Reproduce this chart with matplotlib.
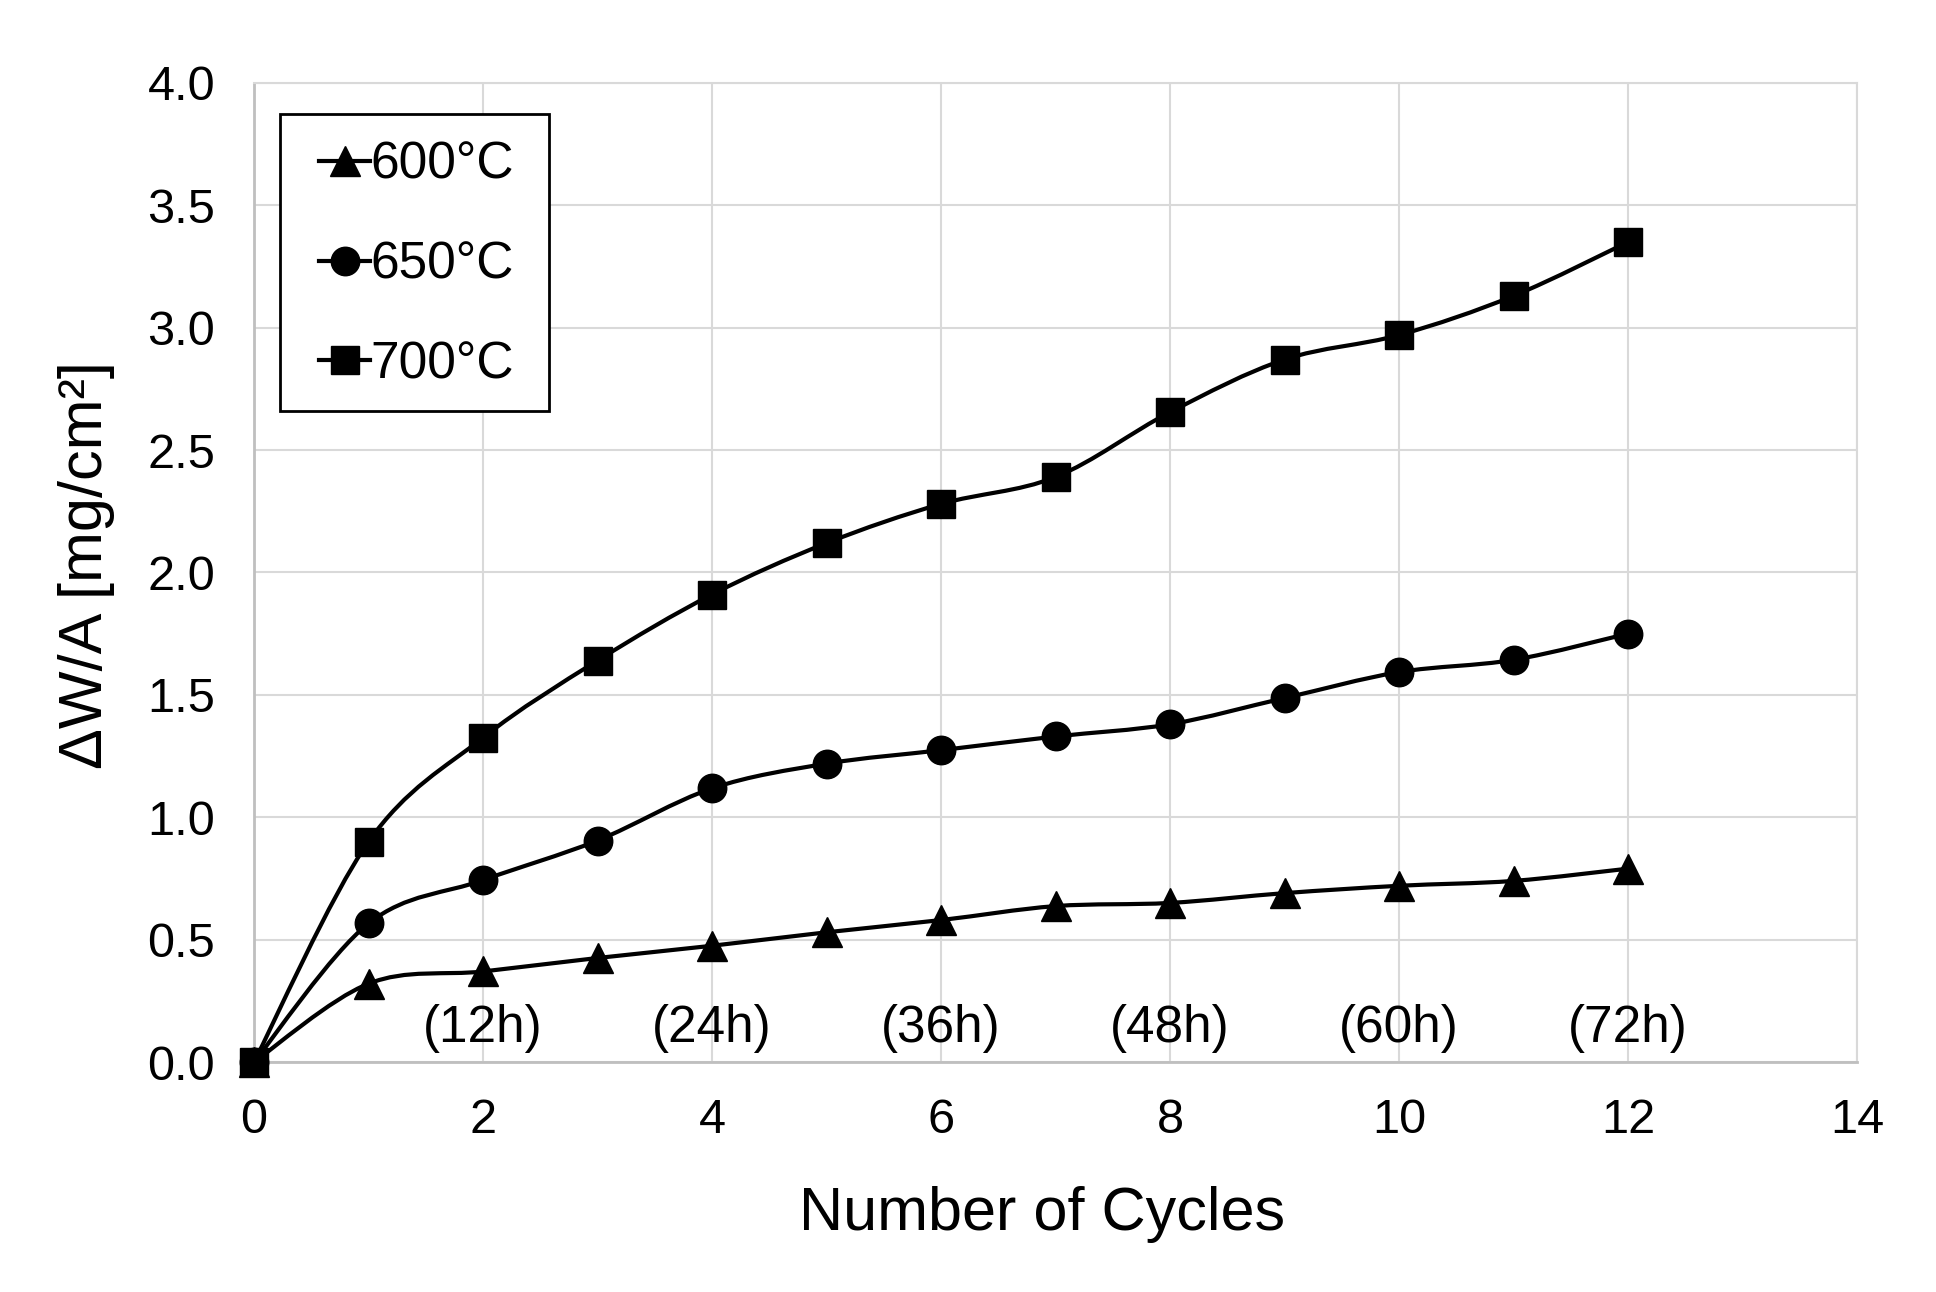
import matplotlib.pyplot as plt
from matplotlib.path import Path
from matplotlib.patches import PathPatch, Rectangle
import numpy as np

plt.rcParams["font.family"] = ["Liberation Sans", "DejaVu Sans"]

cycles = [0, 1, 2, 3, 4, 5, 6, 7, 8, 9, 10, 11, 12]
dw_600 = [0.0, 0.32, 0.37, 0.425, 0.475, 0.53, 0.58, 0.637, 0.65, 0.69, 0.72, 0.74, 0.79]
dw_650 = [0.0, 0.566, 0.743, 0.905, 1.118, 1.219, 1.274, 1.33, 1.38, 1.487, 1.593, 1.643, 1.75]
dw_700 = [0.0, 0.90, 1.325, 1.64, 1.91, 2.12, 2.28, 2.39, 2.655, 2.87, 2.97, 3.13, 3.35]

hour_labels = ["(12h)", "(24h)", "(36h)", "(48h)", "(60h)", "(72h)"]
hour_pos = [2, 4, 6, 8, 10, 12]

series = [
    ("600°C", dw_600, "^"),
    ("650°C", dw_650, "o"),
    ("700°C", dw_700, "s"),
]


def smooth_path(x, y, t=1 / 6):
    # Excel style smoothed line: cubic bezier segments through every point
    x = np.asarray(x, float)
    y = np.asarray(y, float)
    n = len(x)
    verts = [(x[0], y[0])]
    codes = [Path.MOVETO]
    for i in range(n - 1):
        x0, y0 = (x[i - 1], y[i - 1]) if i > 0 else (x[i], y[i])
        x3, y3 = (x[i + 2], y[i + 2]) if i + 2 < n else (x[i + 1], y[i + 1])
        c1 = (x[i] + (x[i + 1] - x0) * t, y[i] + (y[i + 1] - y0) * t)
        c2 = (x[i + 1] - (x3 - x[i]) * t, y[i + 1] - (y3 - y[i]) * t)
        verts += [c1, c2, (x[i + 1], y[i + 1])]
        codes += [Path.CURVE4] * 3
    return Path(verts, codes)


fig = plt.figure(figsize=(19.36, 12.92), dpi=100)
ax = fig.add_axes([0.1312, 0.178, 0.828, 0.7578])

lw = 3.0
for label, vals, mk in series:
    ms = 22 if mk == "^" else 20.5
    ax.add_patch(PathPatch(smooth_path(cycles, vals), fill=False, edgecolor="black", lw=lw, zorder=3))
    ax.plot(cycles, vals, ls="none", marker=mk, ms=ms, color="black", zorder=4, clip_on=False)
    ax.plot([], [], "-", marker=mk, ms=ms, color="black", lw=lw, label=label)

for lbl, xp in zip(hour_labels, hour_pos):
    ax.text(xp, 0.137, lbl, ha="center", va="center", fontsize=37)

ax.set_xlim(0, 14)
ax.set_ylim(0, 4.0)
ax.set_xticks(range(0, 15, 2))
ax.set_yticks(np.arange(0, 4.01, 0.5))
ax.set_yticklabels([f"{v:.1f}" for v in np.arange(0, 4.01, 0.5)])
ax.tick_params(length=0, labelsize=35)
ax.tick_params(axis="x", pad=26)
ax.tick_params(axis="y", pad=28)
ax.grid(True, color="#d9d9d9", lw=1.5)
ax.set_axisbelow(True)
for s in ["top", "right"]:
    ax.spines[s].set_color("#d9d9d9")
    ax.spines[s].set_linewidth(1.5)
for s in ["left", "bottom"]:
    ax.spines[s].set_color("#bfbfbf")
    ax.spines[s].set_linewidth(2)

ax.set_xlabel("Number of Cycles", fontsize=44)
ax.xaxis.set_label_coords(0.4915, -0.1265)
ax.set_ylabel("ΔW/A [mg/cm²]", fontsize=44)
ax.yaxis.set_label_coords(-0.087, 0.508)

# legend box drawn separately so the padding can match
ax.add_patch(Rectangle((0.0162, 0.665), 0.1678, 0.303, transform=ax.transAxes,
                       facecolor="white", edgecolor="black", lw=2, zorder=5))
leg = ax.legend(loc="upper left", bbox_to_anchor=(0.0405, 0.941), fontsize=37, frameon=False,
                handlelength=1.0, handletextpad=0.0, labelspacing=0.99, borderpad=0,
                borderaxespad=0)
leg.set_zorder(6)

plt.savefig("out.png", dpi=100)
